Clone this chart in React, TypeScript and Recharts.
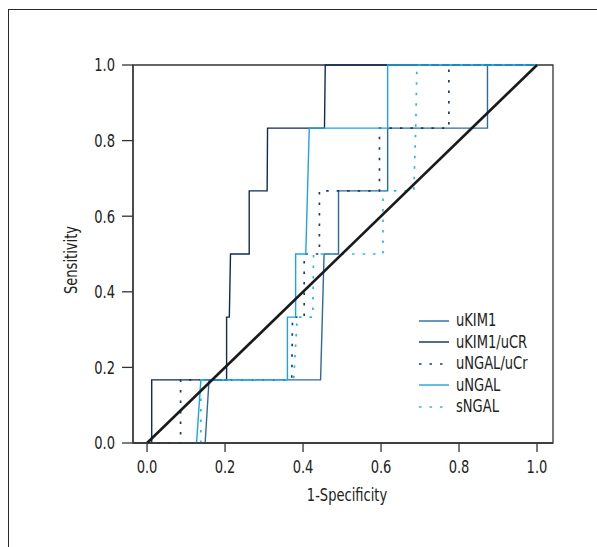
import { LineChart, Line, XAxis, YAxis, ReferenceArea, Legend } from "recharts";

// ROC curves: [1-specificity, sensitivity]
const ukim1: [number, number][] = [
  [0.149, 0], [0.159, 0.167], [0.445, 0.167], [0.454, 0.5], [0.491, 0.5],
  [0.491, 0.667], [0.617, 0.667], [0.617, 0.833], [0.873, 0.833], [0.873, 1], [1, 1],
];
const ukim1Ucr: [number, number][] = [
  [0.012, 0], [0.012, 0.167], [0.204, 0.167], [0.204, 0.333], [0.211, 0.333],
  [0.214, 0.5], [0.262, 0.5], [0.262, 0.667], [0.308, 0.667], [0.309, 0.833],
  [0.455, 0.833], [0.457, 1], [1, 1],
];
const ungalUcr: [number, number][] = [
  [0, 0], [0.086, 0], [0.086, 0.167], [0.371, 0.167], [0.373, 0.333], [0.403, 0.333],
  [0.403, 0.5], [0.442, 0.5], [0.442, 0.667], [0.596, 0.667], [0.596, 0.833],
  [0.774, 0.833], [0.774, 1], [1, 1],
];
const ungal: [number, number][] = [
  [0.127, 0], [0.138, 0.167], [0.36, 0.167], [0.36, 0.333], [0.381, 0.333],
  [0.381, 0.5], [0.407, 0.5], [0.416, 0.833], [0.617, 0.833], [0.617, 1], [1, 1],
];
const sngal: [number, number][] = [
  [0.138, 0], [0.138, 0.167], [0.376, 0.167], [0.385, 0.333], [0.425, 0.333],
  [0.427, 0.5], [0.605, 0.5], [0.605, 0.667], [0.684, 0.667], [0.689, 0.833],
  [0.692, 1], [1, 1],
];
const diagonal: [number, number][] = [[0, 0], [1, 1]];

const xTicks = [0, 0.2, 0.4, 0.6, 0.8, 1.0];
const yTicks = [0, 0.2, 0.4, 0.6, 0.8, 1.0];

const FONT = '"DejaVu Sans Condensed", "DejaVu Sans", sans-serif';
const textStyle = { fontFamily: FONT, fontStretch: "condensed" as const };
const FS = 17.5;
const SQUEEZE = 0.83; // the original uses a tall condensed face
const INK = "#222";

const toPoints = (pts: [number, number][]) => pts.map(([x, y]) => ({ x, y }));

const series = [
  { name: "uKIM1", pts: ukim1, color: "#2c6c9c", dash: undefined, width: 1.4 },
  { name: "uKIM1/uCR", pts: ukim1Ucr, color: "#0e2b55", dash: undefined, width: 1.4 },
  { name: "uNGAL/uCr", pts: ungalUcr, color: "#1d3c6e", dash: "2.5 8", width: 1.7 },
  { name: "uNGAL", pts: ungal, color: "#1fa5de", dash: undefined, width: 1.4 },
  { name: "sNGAL", pts: sngal, color: "#2ab8ec", dash: "2.5 8", width: 1.7 },
];

function NarrowText({ x, y, anchor, dy, angle = 0, children }: any) {
  return (
    <g transform={`translate(${x},${y}) rotate(${angle})`}>
      <text
        transform={`scale(${SQUEEZE},1)`}
        textAnchor={anchor}
        dy={dy}
        fill={INK}
        fontSize={FS}
        style={textStyle}
      >
        {children}
      </text>
    </g>
  );
}

const XTick = ({ x, y, payload }: any) => (
  <NarrowText x={x} y={y} anchor="middle" dy="0.72em">
    {Number(payload.value).toFixed(1)}
  </NarrowText>
);

const YTick = ({ x, y, payload }: any) => (
  <NarrowText x={x} y={y} anchor="end" dy="0.36em">
    {Number(payload.value).toFixed(1)}
  </NarrowText>
);

const XTitle = ({ viewBox }: any) => (
  <NarrowText x={viewBox.x + viewBox.width / 2 + 4} y={viewBox.y + 45} anchor="middle" dy="0.72em">
    1-Specificity
  </NarrowText>
);

const YTitle = ({ viewBox }: any) => (
  <NarrowText x={71} y={viewBox.y + viewBox.height / 2 + 6} anchor="middle" dy="0.36em" angle={-90}>
    Sensitivity
  </NarrowText>
);

function RocLegend() {
  return (
    <div style={{ ...textStyle, fontSize: FS, color: INK, lineHeight: 1 }}>
      {series.map((s) => (
        <div key={s.name} style={{ display: "flex", alignItems: "center", height: 21.5 }}>
          <svg width={30} height={6} style={{ marginRight: 7, flex: "none" }}>
            <line
              x1={0}
              y1={3}
              x2={30}
              y2={3}
              stroke={s.color}
              strokeWidth={s.width}
              strokeDasharray={s.dash}
            />
          </svg>
          <span
            style={{
              display: "inline-block",
              whiteSpace: "nowrap",
              transform: `scale(${SQUEEZE},1)`,
              transformOrigin: "left center",
            }}
          >
            {s.name}
          </span>
        </div>
      ))}
    </div>
  );
}

export default function App() {
  return (
    <div style={{ position: "relative", width: 597, height: 547, overflow: "hidden" }}>
      <style>{"body{margin:0}"}</style>
      <div
        style={{
          position: "absolute",
          left: 8,
          top: 9,
          width: 700,
          height: 700,
          borderLeft: "1.5px solid #2a2a2a",
          borderTop: "1.5px solid #2a2a2a",
        }}
      />
      <div style={{ position: "absolute", left: 0, top: 0 }}>
        <LineChart width={597} height={547} margin={{ top: 65, right: 44, bottom: 0, left: 0 }}>
          <XAxis
            dataKey="x"
            type="number"
            domain={[-0.036, 1.041]}
            ticks={xTicks}
            allowDataOverflow
            height={104}
            axisLine={{ stroke: "#333", strokeWidth: 1.3 }}
            tickLine={{ stroke: "#333", strokeWidth: 1.3 }}
            tickSize={9}
            tickMargin={8}
            tick={<XTick />}
            label={{ content: (p: any) => <XTitle {...p} /> }}
          />
          <YAxis
            dataKey="y"
            type="number"
            domain={[0, 1]}
            ticks={yTicks}
            width={133}
            axisLine={{ stroke: "#333", strokeWidth: 1.3 }}
            tickLine={{ stroke: "#333", strokeWidth: 1.3 }}
            tickSize={11}
            tickMargin={7}
            tick={<YTick />}
            label={{ content: (p: any) => <YTitle {...p} /> }}
          />
          <ReferenceArea
            x1={-0.036}
            x2={1.041}
            y1={0}
            y2={1}
            fill="none"
            stroke="#333"
            strokeWidth={1.3}
            ifOverflow="visible"
          />
          {series.map((s) => (
            <Line
              key={s.name}
              name={s.name}
              data={toPoints(s.pts)}
              dataKey="y"
              type="linear"
              stroke={s.color}
              strokeWidth={s.width}
              strokeDasharray={s.dash}
              dot={false}
              activeDot={false}
              isAnimationActive={false}
            />
          ))}
          <Line
            name="reference"
            data={toPoints(diagonal)}
            dataKey="y"
            type="linear"
            stroke="#1a1a1a"
            strokeWidth={2.6}
            dot={false}
            activeDot={false}
            legendType="none"
            isAnimationActive={false}
          />
          <Legend
            layout="horizontal"
            verticalAlign="middle"
            align="center"
            content={() => <RocLegend />}
            wrapperStyle={{ left: 419, top: 310, width: 150 }}
          />
        </LineChart>
      </div>
    </div>
  );
}
